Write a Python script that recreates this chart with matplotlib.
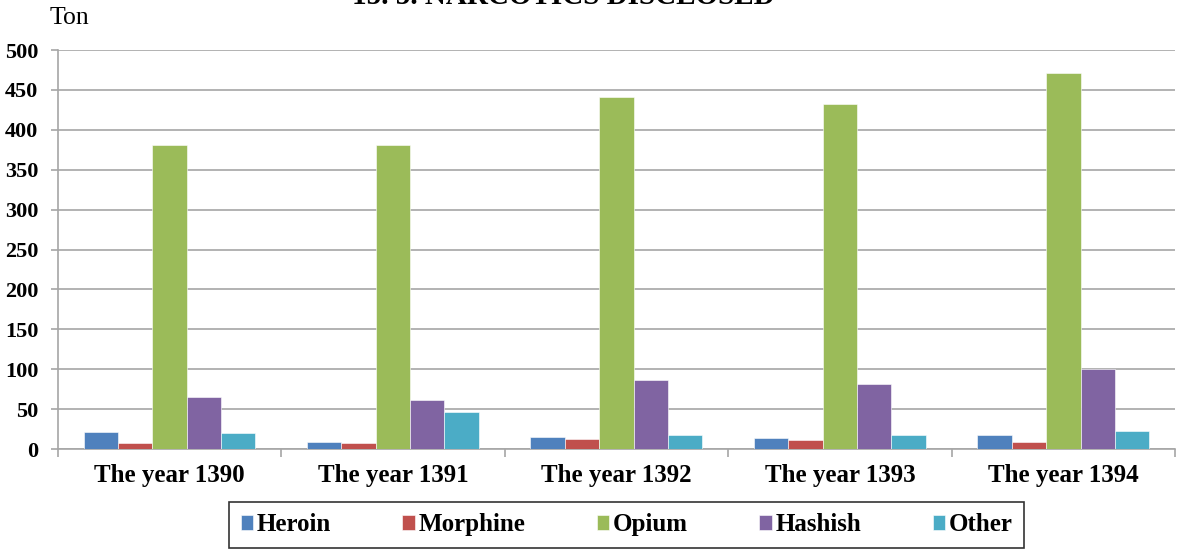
import numpy as np
import matplotlib
matplotlib.use("Agg")
import matplotlib.pyplot as plt

years = ["The year 1390", "The year 1391", "The year 1392", "The year 1393", "The year 1394"]
series = ["Heroin", "Morphine", "Opium", "Hashish", "Other"]
heroin = [21, 9, 15, 14, 18]
morphine = [7, 7, 13, 11, 9]
opium = [381, 381, 441, 432, 471]
hashish = [65, 62, 87, 81, 100]
other = [20, 47, 17, 17, 22]
colors = ["#4F81BD", "#C0504D", "#9BBB59", "#8064A2", "#4BACC6"]

plt.rcParams["font.family"] = ["Liberation Serif", "DejaVu Serif"]

fig = plt.figure(figsize=(11.78, 5.5), dpi=100)
ax = fig.add_axes([0.049, 0.1836, 0.9485, 0.7254])

x = np.arange(len(years))
w = 1 / 6.5
for i, (name, vals, c) in enumerate(zip(series, [heroin, morphine, opium, hashish, other], colors)):
    ax.bar(x + (i - 2) * w, vals, width=w, color=c, label=name, zorder=3,
           edgecolor="white", linewidth=0.4)

ax.set_xlim(-0.5, len(years) - 0.5)
ax.set_ylim(0, 500)
ax.set_yticks(range(0, 501, 50))
ax.grid(axis="y", color="#A6A6A6", linewidth=1.2, zorder=0)
for s in ["top", "right"]:
    ax.spines[s].set_visible(False)
for s in ["left", "bottom"]:
    ax.spines[s].set_color("#A6A6A6")
    ax.spines[s].set_linewidth(1.2)

ax.set_xticks(x)
ax.set_xticklabels(years, fontsize=18, fontweight="bold")
ax.tick_params(axis="x", length=0, pad=11)
ax.set_xticks(np.arange(-0.5, len(years)), minor=True)
ax.tick_params(axis="x", which="minor", length=6, color="#A6A6A6", width=1.2)
ax.tick_params(axis="y", length=5, color="#A6A6A6", width=1.2, labelsize=16, pad=9)
for lbl in ax.get_yticklabels():
    lbl.set_fontweight("bold")

fig.text(0.042, 0.967, "Ton", fontsize=18.5, ha="left", va="center")
# title is cut off at the top edge in the source image
fig.text(0.478, 1 + 3 / 550, "15. 5. NARCOTICS DISCLOSED", fontsize=21, fontweight="bold",
         ha="center", va="center")

leg = fig.legend(loc="center", bbox_to_anchor=(0.532, 0.0455), ncol=5, frameon=True,
                 fancybox=False, edgecolor="black", prop={"weight": "bold", "size": 18},
                 handlelength=0.5, handleheight=0.5, handletextpad=0.15, columnspacing=2.85,
                 borderpad=0.45, borderaxespad=0)
leg.get_frame().set_linewidth(1.2)

fig.savefig("out.png", dpi=100)
